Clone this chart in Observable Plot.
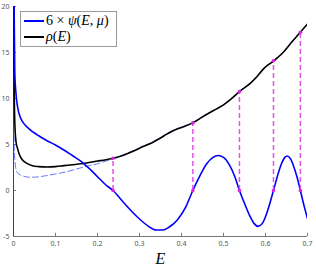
<!DOCTYPE html>
<html><head><meta charset="utf-8">
<script src="https://cdn.jsdelivr.net/npm/d3@7"></script>
<script src="https://cdn.jsdelivr.net/npm/@observablehq/plot@0.6"></script>
<style>
body{margin:0;background:#fff;}
#wrap{position:relative;width:316px;height:266px;}
#legend{position:absolute;left:20px;top:11px;width:95px;height:34px;border:1px solid #9a9a9a;background:#fff;font-family:"Liberation Serif",serif;font-size:14px;color:#000;}
.sw{position:absolute;left:3px;width:20px;height:2px;}
.lt{position:absolute;left:25px;white-space:nowrap;line-height:14px;}
</style>
</head><body>
<div id="wrap">
  <div id="chart"></div>
  <div id="legend">
    <div class="sw" style="top:8px;background:#0000ff"></div>
    <div class="lt" style="top:2px">6 × <i>ψ</i>(<i>E</i>, <i>μ</i>)</div>
    <div class="sw" style="top:24px;background:#000"></div>
    <div class="lt" style="top:18px"><i>ρ</i>(<i>E</i>)</div>
  </div>
</div>
<script>
// blue: 6 × psi(E, mu)
const E_psi = [0.001,0.003,0.006,0.01,0.015,0.02,0.03,0.04,0.05,0.06,0.08,0.1,0.12,0.14,0.16,0.18,0.2,0.22,0.237,0.26,0.28,0.3,0.32,0.34,0.355,0.37,0.39,0.41,0.427,0.445,0.46,0.475,0.487,0.5,0.515,0.527,0.538,0.55,0.562,0.573,0.582,0.592,0.602,0.611,0.619,0.628,0.638,0.646,0.652,0.66,0.668,0.676,0.683,0.692,0.7];
const psi6  = [22,13,10.5,9.0,8.1,7.6,7.0,6.6,6.25,5.95,5.4,4.95,4.4,3.8,3.2,2.4,1.5,0.6,0,-1.2,-2.2,-3.1,-3.85,-4.3,-4.3,-4.0,-3.2,-1.8,0,1.7,2.9,3.6,3.8,3.6,2.7,1.5,0,-1.4,-2.7,-3.6,-3.9,-3.6,-2.6,-1.3,0,1.5,2.9,3.6,3.75,3.4,2.5,1.3,0,-1.7,-3.05];
// black: rho(E)
const E_rho = [0.0008,0.0015,0.003,0.006,0.01,0.015,0.02,0.03,0.045,0.06,0.08,0.1,0.12,0.14,0.16,0.18,0.2,0.22,0.237,0.26,0.286,0.31,0.33,0.35,0.366,0.38,0.4,0.427,0.45,0.469,0.485,0.5,0.517,0.538,0.565,0.58,0.597,0.62,0.644,0.66,0.683,0.7];
const rho   = [25,12,7.5,5.3,4.5,3.8,3.4,3.0,2.7,2.6,2.55,2.6,2.7,2.8,2.9,3.05,3.2,3.35,3.5,3.8,4.3,4.8,5.2,5.7,6.15,6.5,6.85,7.35,8.0,8.5,8.9,9.3,9.9,10.75,11.7,12.4,13.3,14.1,15.1,16.0,17.2,18.1];
// dashed blue approximation
const E_dash = [0.001,0.003,0.006,0.01,0.016,0.025,0.036,0.05,0.076,0.1,0.123,0.14,0.163,0.18,0.203,0.22,0.236,0.26,0.286,0.31,0.33,0.35,0.366,0.38,0.4,0.427,0.45,0.469,0.485,0.5,0.517,0.538,0.565,0.58,0.597,0.62,0.644,0.66,0.683,0.7];
const approx = [6,3.5,2.3,1.9,1.7,1.55,1.45,1.45,1.6,1.8,2.0,2.2,2.5,2.7,2.95,3.2,3.4,3.85,4.35,4.85,5.25,5.75,6.2,6.55,6.9,7.4,8.05,8.55,8.95,9.35,9.95,10.8,11.75,12.45,13.35,14.15,15.15,16.05,17.25,18.15];
// zeros of psi and rho there
const E_zero = [0.237,0.427,0.538,0.619,0.683];
const rhoAtZero = [3.5,7.35,10.75,14.1,17.2];
const xTicks = [0,0.1,0.2,0.3,0.4,0.5,0.6,0.7];
const yTicks = [-5,0,5,10,15,20];

const psiData = E_psi.map((e,i)=>({E:e,v:psi6[i]}));
const rhoData = E_rho.map((e,i)=>({E:e,v:rho[i]}));
const dashData = E_dash.map((e,i)=>({E:e,v:approx[i]}));
const stems = E_zero.map((e,i)=>({E:e,top:rhoAtZero[i]}));

const chart = Plot.plot({
  width:316, height:266,
  marginLeft:13, marginRight:9, marginTop:6, marginBottom:30,
  style:{background:"#fff"},
  x:{domain:[0,0.7]},
  y:{domain:[-5,20]},
  marks:[
    Plot.axisX(xTicks,{tickSize:0,tickPadding:5,fontSize:7,fill:"#555",tickFormat:d=>String(d),label:null}),
    Plot.axisY(yTicks,{tickSize:0,tickPadding:4,fontSize:7,fill:"#555",tickFormat:d=>String(d),label:null}),
    Plot.ruleX(xTicks,{y1:-5,y2:-4.65,stroke:"#777"}),
    Plot.ruleY(yTicks,{x1:0,x2:0.007,stroke:"#777"}),
    Plot.ruleX([0],{stroke:"#444"}),
    Plot.ruleY([-5],{stroke:"#777"}),
    Plot.line(dashData,{x:"E",y:"v",stroke:"#3344ff",strokeOpacity:0.75,strokeWidth:1,strokeDasharray:"6,3",curve:"monotone-x",clip:true}),
    Plot.line(rhoData,{x:"E",y:"v",stroke:"#000",strokeWidth:1.6,curve:"monotone-x",clip:true}),
    Plot.line(psiData,{x:"E",y:"v",stroke:"#0000ff",strokeWidth:1.6,curve:"monotone-x",clip:true}),
    Plot.ruleX(stems,{x:"E",y1:0,y2:"top",stroke:"#e552e5",strokeWidth:1.5,strokeDasharray:"5,3"}),
    Plot.dot(stems,{x:"E",y:0,r:1.8,fill:"#dd22dd"}),
    Plot.dot(stems,{x:"E",y:"top",r:1.8,fill:"#dd22dd"}),
    Plot.text(["E"],{text:d=>d,frameAnchor:"bottom",dy:22,lineAnchor:"middle",fontSize:16,fontStyle:"italic",fontFamily:"Liberation Serif, serif",fill:"#000"})
  ]
});
document.getElementById("chart").appendChild(chart);
</script>
</body></html>
